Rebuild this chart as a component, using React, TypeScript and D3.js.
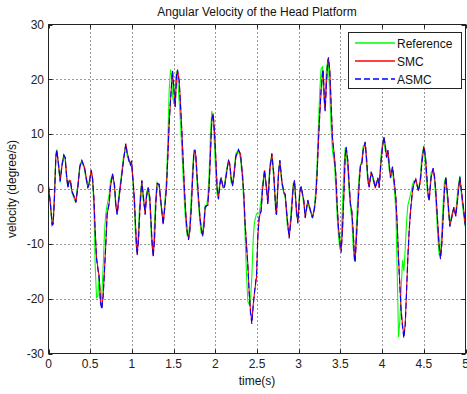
import React from "react";
import * as d3 from "d3";

const time = [
  0.000, 0.024, 0.044, 0.056, 0.072, 0.088, 0.100, 0.120, 0.140, 0.160, 0.184, 0.200, 0.216, 0.232, 0.248, 0.264, 0.280, 0.312, 0.328, 0.352,
  0.376, 0.400, 0.432, 0.456, 0.472, 0.488, 0.512, 0.528, 0.544, 0.560, 0.576, 0.592, 0.608, 0.624, 0.640, 0.656, 0.671, 0.687, 0.703, 0.727,
  0.743, 0.767, 0.791, 0.807, 0.823, 0.847, 0.871, 0.895, 0.927, 0.943, 0.967, 0.983, 0.995, 1.015, 1.031, 1.047, 1.063, 1.079, 1.095, 1.119,
  1.135, 1.159, 1.175, 1.195, 1.215, 1.239, 1.255, 1.271, 1.287, 1.303, 1.327, 1.343, 1.375, 1.399, 1.415, 1.431, 1.447, 1.463, 1.479, 1.487,
  1.503, 1.519, 1.535, 1.547, 1.567, 1.583, 1.599, 1.615, 1.631, 1.647, 1.663, 1.679, 1.695, 1.711, 1.727, 1.743, 1.755, 1.767, 1.783, 1.799,
  1.815, 1.831, 1.847, 1.863, 1.879, 1.894, 1.910, 1.926, 1.942, 1.958, 1.974, 1.990, 2.006, 2.022, 2.038, 2.054, 2.070, 2.094, 2.110, 2.134,
  2.158, 2.174, 2.190, 2.206, 2.222, 2.246, 2.278, 2.302, 2.326, 2.342, 2.358, 2.374, 2.390, 2.406, 2.422, 2.438, 2.455, 2.470, 2.494, 2.510,
  2.526, 2.550, 2.566, 2.590, 2.614, 2.630, 2.654, 2.678, 2.702, 2.726, 2.734, 2.758, 2.774, 2.798, 2.822, 2.838, 2.862, 2.886, 2.910, 2.934,
  2.950, 2.974, 2.990, 3.014, 3.030, 3.046, 3.062, 3.078, 3.109, 3.133, 3.165, 3.189, 3.205, 3.221, 3.237, 3.253, 3.269, 3.285, 3.293, 3.309,
  3.317, 3.333, 3.349, 3.357, 3.373, 3.389, 3.405, 3.429, 3.445, 3.461, 3.477, 3.493, 3.509, 3.525, 3.541, 3.557, 3.569, 3.589, 3.605, 3.621,
  3.637, 3.653, 3.669, 3.677, 3.693, 3.709, 3.725, 3.741, 3.757, 3.773, 3.797, 3.813, 3.829, 3.845, 3.869, 3.893, 3.917, 3.933, 3.949, 3.965,
  3.989, 4.005, 4.021, 4.037, 4.053, 4.069, 4.085, 4.101, 4.125, 4.149, 4.165, 4.181, 4.197, 4.213, 4.229, 4.245, 4.261, 4.277, 4.293, 4.309,
  4.325, 4.341, 4.365, 4.381, 4.404, 4.436, 4.460, 4.476, 4.500, 4.508, 4.524, 4.548, 4.564, 4.588, 4.612, 4.628, 4.644, 4.668, 4.684, 4.700,
  4.716, 4.732, 4.748, 4.764, 4.788, 4.812, 4.836, 4.860, 4.884, 4.908, 4.932, 4.956, 4.980, 4.996, 5.000,
];

const reference = [
  0.5, -3.5, -6.6, -5.5, 0, 6.5, 7.2, 4, 1.2, 4.6, 6.3, 5.4, 2, 0.5, 1.6, 1.2, -0.6, -2, -2.2, 1,
  4.5, 5.1, 3.5, 1.2, 0.4, 1.5, 3.2, 1.5, -3, -14, -19.8, -19.5, -15.5, -21.3, -19, -14, -8, -4.5, -3, -1,
  1.5, 2.5, 0, -3.5, -4, -0.5, 2.2, 5.5, 8.0, 6, 5, 4.8, 4.5, 0.5, -4, -10, -11.5, -7, -2, 1.5,
  -2, -4, -0.5, 0, -3, -10.5, -11.5, -6, -1, 1.2, 0.5, -2.5, -6, -1.5, 2, 9, 18, 21.8, 20.5, 17,
  15.5, 19, 21.5, 20.5, 16, 12, 7, 2, -3, -6.5, -8.5, -8.5, -6, -1.5, 3.5, 7, 6.8, 5, 0.5, -3,
  -6, -8, -8, -5.5, -3, -3.2, -1.5, 3, 10, 14.2, 12.5, 8, 2.5, -1, -1.5, 1.5, 2, 0.2, 0.8, 3.5,
  5.2, 4, 1.2, 1, 3, 6.5, 7, 5.5, 1.5, -2.5, -9, -15.5, -20.5, -21, -20.5, -16, -9, -6, -4.5, -4.5,
  -4.5, -2, 1, 3, -0.5, -1.5, 4.5, 6.2, 1.5, -4.6, -4, 3.5, 5, 0.8, -0.8, -1.5, -6.5, -8.5, -3.5, 1,
  1, -5, -5.5, 0.2, 0.3, -1.2, -3, -5, -2.3, -3.8, -5.2, -3, 0, 5, 12, 18, 22, 22.3, 19, 15,
  17, 22, 23.5, 22.5, 17, 11, 7, 4.5, 0, -5, -8.5, -11, -9, -3, 3.5, 7.5, 7, 3.5, -0.5, -3.5,
  -5.5, -10.5, -13.2, -11.5, -6, -1, 2.5, 4.5, 5, 7.8, 8.2, 4.5, 1, 0.8, 3, 1.5, 0.5, 1.5, 1.5, 1,
  6.5, 8.5, 9, 7, 6.5, 6, 3.5, 2.5, 3.5, -0.5, -4, -15, -27, -24, -18, -13, -15, -11, -6, -3,
  -2, -1, 0.8, 1.5, 1.5, -0.3, 2.5, 6, 7.8, 6.5, 3, -1.5, -1.5, 3, 3.5, 1.5, -2, -9, -12, -12,
  -7.5, -2.5, 1.5, 2, -3, -6.5, -4.5, -3.5, -4, 0, 2.4, -2, -5, -6.8, -7,
];

const smc = [
  0.5, -2.7, -6.4, -6.4, -1.5, 5.8, 7.0, 4.6, 1.5, 4.0, 6.1, 5.8, 2.7, 0.3, 1.5, 1.5, -0.3, -1.5, -2.4, 0.3,
  4.0, 5.1, 4.0, 1.8, 0.3, 0.9, 3.4, 2.1, -1.5, -7.6, -12.5, -14.3, -16.1, -20.4, -21.6, -19.2, -14.9, -10.1, -4.6, -2.7,
  0.3, 2.7, 0.9, -2.7, -4.6, -1.5, 1.5, 4.6, 8.2, 6.7, 5.2, 4.3, 5.2, 1.5, -2.1, -7.6, -11.9, -9.4, -4.0, 1.5,
  -0.9, -4.6, -1.5, 0.3, -1.5, -8.8, -12.2, -9.4, -2.7, 0.9, 0.9, -1.5, -6.4, -2.7, 0.3, 5.8, 11.9, 16.1, 19.8, 21.3,
  18.0, 14.9, 20.4, 21.6, 19.8, 15.5, 10.7, 5.2, -0.3, -4.6, -7.6, -9.1, -7.6, -4.0, 1.5, 6.4, 7.1, 6.1, 2.1, -1.5,
  -4.9, -7.0, -8.5, -7.0, -3.4, -3.0, -3.0, 0.3, 6.4, 12.5, 13.8, 10.7, 5.8, 0.3, -1.8, 0.6, 2.1, 0.3, 0.3, 2.7,
  5.2, 4.6, 2.1, 0.6, 2.1, 5.8, 7.1, 6.4, 2.7, -0.9, -6.4, -10.1, -13.7, -18.6, -22.2, -24.2, -21.0, -19.0, -16.1, -8.8,
  -5.2, -4.0, -0.3, 3.4, 0.3, -2.7, 3.4, 6.4, 2.7, -4.0, -4.6, 2.7, 5.2, 1.5, -0.6, -0.9, -5.2, -8.8, -5.2, 0.3,
  1.5, -4.0, -6.1, -0.6, 0.4, -0.9, -2.1, -5.2, -2.1, -3.4, -5.2, -3.7, -1.5, 2.7, 8.8, 13.7, 18.0, 21.0, 21.6, 16.1,
  14.3, 19.2, 23.2, 23.8, 21.6, 15.5, 9.4, 5.8, 2.7, -2.7, -7.0, -9.4, -11.3, -7.6, -1.5, 5.8, 7.6, 5.2, 0.9, -2.7,
  -4.0, -7.6, -12.5, -13.1, -8.8, -4.0, 0.9, 4.3, 4.6, 7.0, 8.5, 5.8, 2.1, 0.3, 3.0, 2.1, 0.3, 0.9, 2.1, 0.3,
  5.2, 7.6, 9.4, 8.2, 5.8, 7.0, 4.6, 2.1, 4.0, 0.9, -1.5, -6.4, -12.5, -17.4, -22.2, -24.7, -26.8, -24.7, -18.6, -12.5,
  -7.6, -4.0, -0.3, 0.9, 1.8, -0.3, 1.5, 4.6, 7.6, 7.3, 5.2, -0.3, -2.1, 2.1, 3.7, 2.4, -0.3, -6.4, -10.1, -12.5,
  -10.1, -5.2, -0.3, 2.1, -1.5, -6.7, -5.2, -3.4, -4.9, -1.5, 2.1, -0.9, -4.0, -6.4, -6.5,
];

const asmc = [
  0.5, -2.8, -6.6, -6.3, -1.6, 5.7, 7.1, 4.5, 1.4, 4.1, 6.2, 5.7, 2.6, 0.2, 1.5, 1.4, -0.4, -1.6, -2.5, 0.4,
  4.1, 5.2, 3.9, 1.7, 0.2, 1.0, 3.5, 2.0, -1.6, -7.8, -12.8, -14.6, -16.4, -20.8, -22.0, -19.4, -15.0, -10.0, -4.5, -2.6,
  0.4, 2.8, 0.8, -2.8, -4.7, -1.4, 1.6, 4.7, 8.3, 6.6, 5.1, 4.4, 5.1, 1.4, -2.2, -7.8, -12.1, -9.3, -3.9, 1.6,
  -1.0, -4.7, -1.4, 0.2, -1.6, -9.0, -12.4, -9.2, -2.6, 1.0, 0.8, -1.6, -6.5, -2.6, 0.4, 6.0, 12.1, 16.3, 20.0, 21.6,
  18.2, 15.0, 20.6, 21.8, 19.6, 15.2, 10.4, 5.0, -0.5, -4.8, -7.8, -9.3, -7.5, -3.8, 1.6, 6.5, 7.2, 6.0, 2.0, -1.6,
  -5.0, -7.2, -8.7, -6.9, -3.3, -3.1, -2.9, 0.4, 6.6, 12.6, 13.7, 10.5, 5.6, 0.2, -1.9, 0.7, 2.0, 0.2, 0.4, 2.8,
  5.3, 4.5, 2.0, 0.5, 2.2, 5.9, 7.2, 6.3, 2.6, -1.0, -6.6, -10.3, -14.0, -19.0, -22.6, -24.6, -21.2, -18.8, -15.6, -8.5,
  -5.1, -3.9, -0.2, 3.5, 0.2, -2.8, 3.5, 6.5, 2.6, -4.1, -4.7, 2.8, 5.3, 1.4, -0.7, -1.0, -5.4, -9.0, -5.0, 0.4,
  1.6, -4.1, -6.3, -0.5, 0.5, -1.0, -2.2, -5.3, -2.0, -3.5, -5.3, -3.6, -1.4, 2.9, 9.0, 13.9, 18.2, 21.2, 21.8, 16.0,
  14.2, 19.4, 23.4, 24.0, 21.4, 15.3, 9.2, 5.6, 2.6, -2.8, -7.2, -9.6, -11.6, -7.4, -1.3, 6.0, 7.7, 5.1, 0.8, -2.8,
  -4.1, -7.8, -12.8, -13.4, -8.6, -3.8, 1.0, 4.4, 4.7, 7.1, 8.6, 5.7, 2.0, 0.4, 3.1, 2.0, 0.2, 1.0, 2.0, 0.2,
  5.3, 7.7, 9.6, 8.1, 5.7, 7.1, 4.5, 2.0, 4.1, 0.8, -1.6, -6.6, -12.8, -17.8, -22.6, -25.2, -27.2, -25.0, -18.8, -12.3,
  -7.4, -3.9, -0.2, 1.0, 1.7, -0.4, 1.6, 4.7, 7.7, 7.2, 5.1, -0.4, -2.2, 2.2, 3.8, 2.3, -0.4, -6.6, -10.4, -12.8,
  -10.0, -5.0, -0.2, 2.2, -1.6, -6.9, -5.1, -3.3, -5.0, -1.4, 2.2, -1.0, -4.1, -6.5, -6.6,
];

const xTicks = [0, 0.5, 1, 1.5, 2, 2.5, 3, 3.5, 4, 4.5, 5];
const xTickLabels = ["0", "0.5", "1", "1.5", "2", "2.5", "3", "3.5", "4", "4.5", "5"];
const yTicks = [-30, -20, -10, 0, 10, 20, 30];
const yTickLabels = ["-30", "-20", "-10", "0", "10", "20", "30"];

const seriesNames = ["Reference", "SMC", "ASMC"];
const seriesColors = ["#00ff00", "#ff0000", "#0000ff"];
const seriesDash = ["none", "none", "6,3"];

const W = 467;
const H = 394;
const L = 48.5, R = 465.5, T = 24.5, B = 353.5;
const FONT = "'Liberation Sans', Arial, Helvetica, sans-serif";

export default function App() {
  const x = d3.scaleLinear().domain([0, 5]).range([L, R]);
  const y = d3.scaleLinear().domain([-30, 30]).range([B, T]);
  const line = d3
    .line<number>()
    .x((_, i) => x(time[i]))
    .y((d) => y(d));
  const allSeries = [reference, smc, asmc];
  const tickLen = 4;

  return (
    <svg
      width={W}
      height={H}
      style={{ position: "absolute", left: 0, top: 0, background: "#fff" }}
      fontFamily={FONT}
    >
      <rect x={0} y={0} width={W} height={H} fill="#fff" />
      <defs>
        <clipPath id="plotclip">
          <rect x={L} y={T} width={R - L} height={B - T} />
        </clipPath>
      </defs>
      {/* grid */}
      <g stroke="#333" strokeWidth={1} strokeDasharray="1,3">
        {xTicks.slice(1, -1).map((t) => (
          <line key={"gx" + t} x1={Math.round(x(t)) + 0.5} x2={Math.round(x(t)) + 0.5} y1={T} y2={B} />
        ))}
        {yTicks.slice(1, -1).map((v) => (
          <line key={"gy" + v} x1={L} x2={R} y1={Math.round(y(v)) + 0.5} y2={Math.round(y(v)) + 0.5} />
        ))}
      </g>
      {/* series */}
      <g clipPath="url(#plotclip)" fill="none">
        {allSeries.map((s, k) => (
          <path
            key={seriesNames[k]}
            d={line(s) || ""}
            stroke={seriesColors[k]}
            strokeWidth={1.1}
            strokeDasharray={seriesDash[k]}
          />
        ))}
      </g>
      {/* axes box and ticks */}
      <g stroke="#222" strokeWidth={1} fill="none">
        <rect x={L} y={T} width={R - L} height={B - T} />
        {xTicks.map((t) => {
          const px = Math.round(x(t)) + 0.5;
          return (
            <g key={"tx" + t}>
              <line x1={px} x2={px} y1={B} y2={B - tickLen} />
              <line x1={px} x2={px} y1={T} y2={T + tickLen} />
            </g>
          );
        })}
        {yTicks.map((v) => {
          const py = Math.round(y(v)) + 0.5;
          return (
            <g key={"ty" + v}>
              <line x1={L} x2={L + tickLen} y1={py} y2={py} />
              <line x1={R} x2={R - tickLen} y1={py} y2={py} />
            </g>
          );
        })}
      </g>
      {/* tick labels */}
      <g fontSize={12} fill="#222">
        {xTicks.map((t, i) => (
          <text key={"lx" + t} x={x(t)} y={368} textAnchor="middle">
            {xTickLabels[i]}
          </text>
        ))}
        {yTicks.map((v, i) => (
          <text key={"ly" + v} x={44} y={y(v) + 4.3} textAnchor="end">
            {yTickLabels[i]}
          </text>
        ))}
      </g>
      {/* titles */}
      <text x={(L + R) / 2} y={16} textAnchor="middle" fontSize={12} fill="#111">
        Angular Velocity of the Head Platform
      </text>
      <text x={(L + R) / 2} y={385} textAnchor="middle" fontSize={12} fill="#111">
        time(s)
      </text>
      <text
        transform={`translate(16, ${(T + B) / 2}) rotate(-90)`}
        textAnchor="middle"
        fontSize={12}
        fill="#111"
      >
        velocity (degree/s)
      </text>
      {/* legend */}
      <g>
        <rect x={348.5} y={32.5} width={113} height={56} fill="#fff" stroke="#222" strokeWidth={1} />
        {seriesNames.map((n, k) => {
          const ly = 43 + k * 18;
          return (
            <g key={"leg" + n}>
              <line
                x1={355}
                x2={395}
                y1={ly}
                y2={ly}
                stroke={seriesColors[k]}
                strokeWidth={1.6}
                strokeDasharray={seriesDash[k]}
              />
              <text x={397} y={ly + 4.5} fontSize={12} fill="#111">
                {n}
              </text>
            </g>
          );
        })}
      </g>
    </svg>
  );
}
